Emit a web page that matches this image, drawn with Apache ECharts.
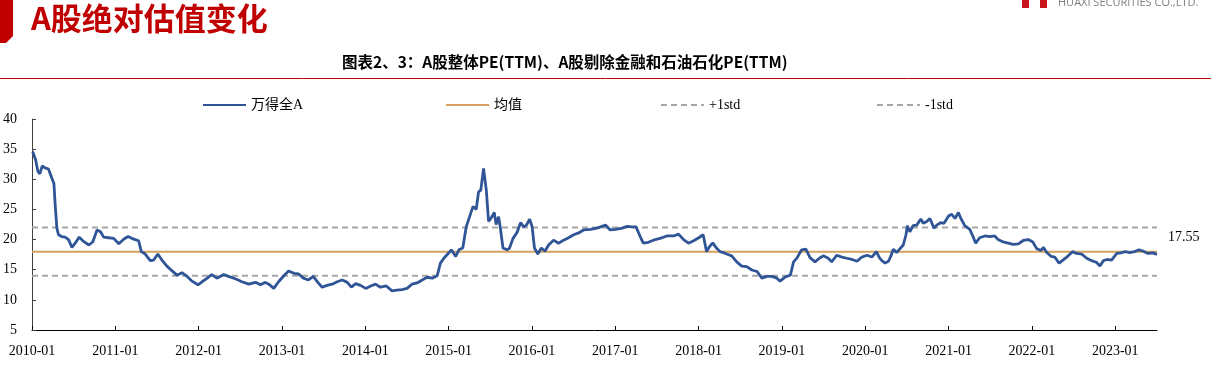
<!DOCTYPE html>
<html>
<head>
<meta charset="utf-8">
<script src="https://cdn.jsdelivr.net/npm/echarts@6/dist/echarts.min.js"></script>
<style>
html,body{margin:0;padding:0;background:#fff;}
#chart{width:1211px;height:382px;}
</style>
</head>
<body>
<div id="chart"></div>
<script>
const seriesNames = ['万得全A', '均值', '+1std', '-1std'];
const dates = [
'2010-01-04','2010-01-17','2010-01-27','2010-02-04','2010-02-15','2010-02-27','2010-03-07','2010-03-14','2010-03-26','2010-04-07',
'2010-04-13','2010-04-20','2010-04-27','2010-05-11','2010-05-26','2010-06-10','2010-06-25','2010-07-09','2010-07-27','2010-08-15',
'2010-09-07','2010-09-24','2010-10-13','2010-10-28','2010-11-11','2010-12-03','2010-12-25','2011-01-16','2011-02-08','2011-02-26',
'2011-03-14','2011-03-29','2011-04-13','2011-04-25','2011-05-12','2011-06-03','2011-06-18','2011-07-06','2011-07-24','2011-08-15',
'2011-09-07','2011-09-28','2011-10-20','2011-11-11','2011-12-03','2011-12-29','2012-01-16','2012-02-08','2012-02-27','2012-03-21',
'2012-04-20','2012-05-11','2012-06-10','2012-07-09','2012-08-08','2012-09-07','2012-09-28','2012-10-20','2012-11-04','2012-11-26',
'2012-12-17','2013-01-09','2013-01-30','2013-02-22','2013-03-14','2013-04-05','2013-04-27','2013-05-18','2013-06-07','2013-06-26',
'2013-07-17','2013-08-09','2013-08-31','2013-09-22','2013-10-14','2013-11-01','2013-11-20','2013-12-11','2014-01-03','2014-01-25',
'2014-02-15','2014-03-08','2014-04-03','2014-04-28','2014-05-19','2014-06-11','2014-07-03','2014-07-24','2014-08-16','2014-09-07',
'2014-09-29','2014-10-21','2014-11-12','2014-11-26','2014-12-11','2014-12-28','2015-01-13','2015-02-01','2015-02-15','2015-03-04',
'2015-03-19','2015-04-03','2015-04-18','2015-05-02','2015-05-12','2015-05-22','2015-06-03','2015-06-15','2015-06-25','2015-07-10',
'2015-07-20','2015-07-28','2015-08-08','2015-08-15','2015-08-27','2015-09-14','2015-09-25','2015-10-10','2015-10-28','2015-11-12',
'2015-11-26','2015-12-08','2015-12-22','2016-01-02','2016-01-12','2016-01-27','2016-02-11','2016-02-28','2016-03-14','2016-04-05',
'2016-04-27','2016-05-19','2016-06-10','2016-07-02','2016-07-24','2016-08-15','2016-09-14','2016-10-13','2016-11-19','2016-12-10',
'2017-01-02','2017-02-01','2017-02-22','2017-03-14','2017-04-02','2017-04-20','2017-05-04','2017-05-26','2017-06-17','2017-07-16',
'2017-08-15','2017-09-14','2017-10-05','2017-10-27','2017-11-18','2017-12-10','2018-01-02','2018-01-21','2018-02-05','2018-02-19',
'2018-03-04','2018-03-18','2018-04-05','2018-04-19','2018-05-04','2018-05-26','2018-06-17','2018-07-09','2018-07-31','2018-08-22',
'2018-09-14','2018-10-05','2018-10-27','2018-11-18','2018-12-10','2018-12-24','2019-01-16','2019-02-07','2019-02-21','2019-03-09',
'2019-03-28','2019-04-16','2019-05-04','2019-05-26','2019-06-14','2019-07-01','2019-07-23','2019-08-07','2019-08-29','2019-09-21',
'2019-10-12','2019-11-04','2019-11-26','2019-12-17','2020-01-09','2020-01-30','2020-02-19','2020-03-03','2020-03-14','2020-03-28',
'2020-04-12','2020-04-22','2020-05-03','2020-05-18','2020-06-02','2020-06-16','2020-06-28','2020-07-04','2020-07-15','2020-07-29',
'2020-08-14','2020-09-01','2020-09-12','2020-09-27','2020-10-11','2020-10-29','2020-11-10','2020-11-27','2020-12-12','2021-01-01',
'2021-01-15','2021-01-29','2021-02-13','2021-02-24','2021-03-13','2021-04-04','2021-04-18','2021-04-30','2021-05-17','2021-06-09',
'2021-07-01','2021-07-22','2021-08-06','2021-08-28','2021-09-19','2021-10-11','2021-11-03','2021-11-24','2021-12-16','2022-01-05',
'2022-01-22','2022-02-10','2022-02-21','2022-03-06','2022-03-27','2022-04-11','2022-04-30','2022-05-17','2022-06-09','2022-06-28',
'2022-07-15','2022-08-07','2022-08-29','2022-09-20','2022-10-12','2022-10-26','2022-11-10','2022-11-27','2022-12-16','2023-01-08',
'2023-01-25','2023-02-14','2023-03-05','2023-03-27','2023-04-15','2023-05-02','2023-05-24','2023-06-15','2023-07-03'
];
const peValues = [
34.6,33.2,31.3,30.9,32.2,31.9,31.6,31.7,30.5,29.3,
25.5,21.9,20.8,20.5,20.4,20.0,18.7,19.4,20.4,19.7,
19.1,19.6,21.6,21.3,20.4,20.3,20.2,19.3,20.1,20.5,
20.2,20.0,19.8,18.0,17.6,16.5,16.6,17.6,16.6,15.6,
14.8,14.1,14.5,13.9,13.1,12.5,13.0,13.6,14.2,13.6,
14.2,13.9,13.5,13.0,12.6,12.9,12.5,12.9,12.6,11.9,
13.0,14.0,14.8,14.4,14.3,13.6,13.3,13.9,12.9,12.1,
12.4,12.6,13.0,13.3,12.9,12.1,12.7,12.4,11.9,12.3,
12.6,12.1,12.3,11.5,11.6,11.7,11.9,12.6,12.8,13.3,
13.75,13.6,14.0,16.1,16.9,17.6,18.3,17.2,18.3,18.6,
22.1,23.8,25.5,25.0,27.9,28.2,31.8,28.2,23.0,23.8,
24.5,22.5,23.8,22.1,18.6,18.3,18.6,20.2,21.2,22.8,
22.1,22.4,23.4,22.1,18.6,17.6,18.6,18.1,19.1,19.9,
19.4,19.9,20.3,20.8,21.1,21.6,21.7,21.9,22.4,21.6,
21.7,21.9,22.2,22.1,22.1,20.5,19.4,19.55,19.9,20.2,
20.6,20.6,20.9,20.0,19.4,19.8,20.3,20.8,18.0,18.9,
19.45,18.7,18.0,17.85,17.6,17.3,16.3,15.6,15.5,14.95,
14.7,13.6,13.9,13.9,13.6,13.1,13.8,14.1,16.3,17.0,
18.3,18.4,17.0,16.3,16.9,17.3,16.9,16.3,17.4,17.1,
16.9,16.7,16.4,17.1,17.4,17.1,18.0,17.0,16.5,16.1,
16.4,17.2,18.4,17.85,18.5,19.1,20.8,22.3,21.3,22.3,
22.4,23.4,22.7,23.0,23.5,21.9,22.4,22.8,22.7,23.9,
24.2,23.5,24.5,23.5,22.3,21.7,20.5,19.4,20.3,20.6,
20.5,20.6,20.0,19.6,19.4,19.2,19.3,19.85,20.0,19.6,
18.5,18.2,18.7,17.9,17.2,17.1,16.1,16.6,17.3,18.0,
17.7,17.6,16.9,16.5,16.2,15.6,16.5,16.7,16.6,17.7,
17.8,18.0,17.85,18.0,18.3,18.1,17.7,17.8,17.55
];
const meanValue = 18.0;
const plusStd = 22.0;
const minusStd = 14.0;
const yearTicks = [2010,2011,2012,2013,2014,2015,2016,2017,2018,2019,2020,2021,2022,2023];
const tickLabels = yearTicks.map(y => y + '-01');

function toYear(s) {
  const p = s.split('-').map(Number);
  const t = Date.UTC(p[0], p[1] - 1, p[2]);
  const t0 = Date.UTC(p[0], 0, 1);
  const t1 = Date.UTC(p[0] + 1, 0, 1);
  return p[0] + (t - t0) / (t1 - t0);
}
const xs = dates.map(toYear);
const peData = xs.map((x, i) => [x, peValues[i]]);
const xStart = 2010, xEnd = xs[xs.length - 1];
const flat = v => [[xStart, v], [xEnd, v]];

const serif = "'Liberation Serif','Times New Roman','Noto Sans CJK SC',serif";
const chart = echarts.init(document.getElementById('chart'));
const legendBase = {
  top: 93, itemWidth: 43, itemHeight: 14, itemGap: 0,
  itemStyle: { opacity: 0, borderWidth: 0 },
  textStyle: { fontFamily: serif, fontSize: 14, color: '#000' },
  selectedMode: false
};
chart.setOption({
  animation: false,
  backgroundColor: '#fff',
  graphic: [
    { type: 'polygon', shape: { points: [[0, 0], [13, 0], [13, 36], [6, 43], [0, 43]] }, style: { fill: '#C00000' } },
    { type: 'text', left: 31, top: 3, style: { text: 'A股绝对估值变化', fontFamily: "'Noto Sans CJK SC',sans-serif", fontWeight: 'bold', fontSize: 31, fill: '#C00000' } },
    { type: 'rect', shape: { x: 1022, y: 0, width: 7, height: 8 }, style: { fill: '#C8161D' } },
    { type: 'rect', shape: { x: 1040, y: 0, width: 7, height: 8 }, style: { fill: '#C8161D' } },
    { type: 'text', left: 1058, top: -3, style: { text: 'HUAXI SECURITIES CO.,LTD.', fontFamily: "'Open Sans',sans-serif", fontSize: 11, fill: '#7F7F7F' } },
    { type: 'text', left: 342, top: 54, style: { text: '图表2、3：A股整体PE(TTM)、A股剔除金融和石油石化PE(TTM)', fontFamily: "'Noto Sans CJK SC',sans-serif", fontWeight: 'bold', fontSize: 15.5, fill: '#000' } },
    { type: 'line', shape: { x1: 0, y1: 78.5, x2: 1211, y2: 78.5 }, style: { stroke: '#C00000', lineWidth: 1 } }
  ],
  legend: [
    Object.assign({}, legendBase, { left: 197, data: [seriesNames[0]] }),
    Object.assign({}, legendBase, { left: 440, data: [seriesNames[1]] }),
    Object.assign({}, legendBase, { left: 655, data: [seriesNames[2]] }),
    Object.assign({}, legendBase, { left: 871, data: [seriesNames[3]] })
  ],
  grid: { left: 31, right: 54, top: 119, bottom: 52, containLabel: false },
  xAxis: {
    type: 'value', min: xStart, max: xEnd,
    axisLine: { show: true, lineStyle: { color: '#000', width: 1 } },
    axisTick: { show: true, inside: true, length: 4, lineStyle: { color: '#000' }, customValues: yearTicks },
    axisLabel: {
      customValues: yearTicks,
      formatter: v => tickLabels[yearTicks.indexOf(Math.round(v))] || '',
      fontFamily: serif, fontSize: 14, color: '#000', margin: 14
    },
    splitLine: { show: false }
  },
  yAxis: {
    type: 'value', min: 5, max: 40, interval: 5,
    axisLine: { show: true, lineStyle: { color: '#404040', width: 1 } },
    axisTick: { show: true, inside: true, length: 4, lineStyle: { color: '#404040' } },
    axisLabel: { fontFamily: serif, fontSize: 14, color: '#000', margin: 15 },
    splitLine: { show: false }
  },
  series: [
    { name: seriesNames[1], type: 'line', data: flat(meanValue), symbol: 'none', z: 2,
      lineStyle: { color: '#D6A15E', width: 2 }, itemStyle: { color: '#D6A15E' } },
    { name: seriesNames[2], type: 'line', data: flat(plusStd), symbol: 'none', z: 2,
      lineStyle: { color: '#A6A6A6', width: 2, type: [6, 4] }, itemStyle: { color: '#A6A6A6' } },
    { name: seriesNames[3], type: 'line', data: flat(minusStd), symbol: 'none', z: 2,
      lineStyle: { color: '#A6A6A6', width: 2, type: [6, 4] }, itemStyle: { color: '#A6A6A6' } },
    { name: seriesNames[0], type: 'line', data: peData, symbol: 'none', z: 5,
      lineStyle: { color: '#2F5597', width: 2.8 }, itemStyle: { color: '#2F5597' },
      endLabel: { show: true, formatter: p => p.value[1].toFixed(2), offset: [3, -17],
        fontFamily: serif, fontSize: 14, color: '#000' } }
  ]
});
</script>
</body>
</html>
